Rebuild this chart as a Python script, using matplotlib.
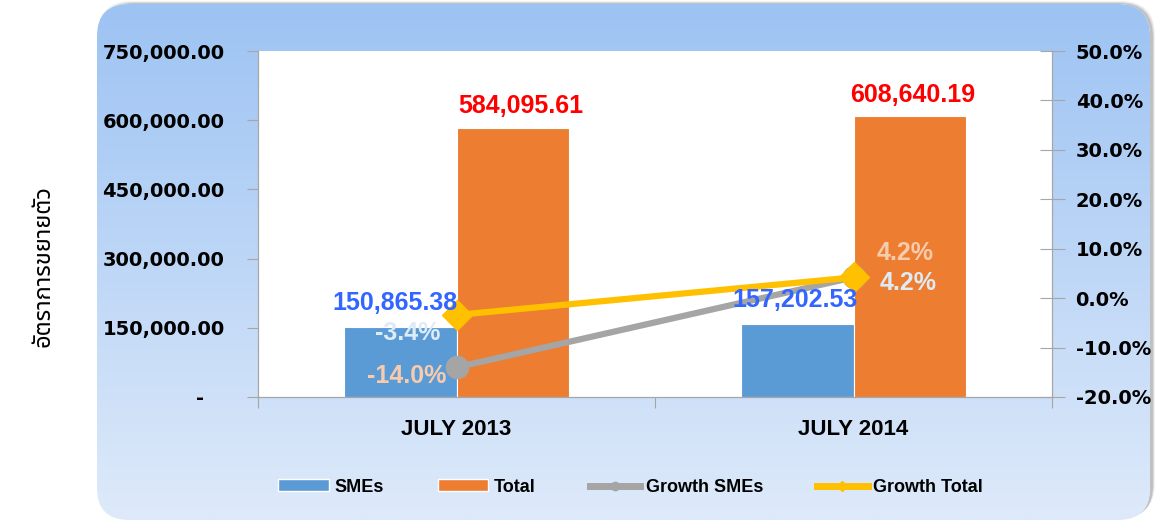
import numpy as np
import matplotlib
matplotlib.use("Agg")
import matplotlib.pyplot as plt
from matplotlib import font_manager as fm
from matplotlib.ft2font import FT2Font
from matplotlib.patches import FancyBboxPatch, Patch
from matplotlib.lines import Line2D

# data
categories = ["JULY 2013", "JULY 2014"]
smes = [150865.38, 157202.53]
total = [584095.61, 608640.19]
growth_smes = [-14.0, 4.2]
growth_total = [-3.4, 4.2]
left_ticks = [0, 150000, 300000, 450000, 600000, 750000]
right_ticks = [-20, -10, 0, 10, 20, 30, 40, 50]
ylabel_th = "อัตราการขยายตัว"

# look for a font that has thai glyphs, prefer a plain sans one
thai_files = []
for f in fm.findSystemFonts():
    try:
        if 0x0E2D in FT2Font(f).get_charmap():
            thai_files.append(f)
    except Exception:
        pass
def score(p):
    n = p.lower()
    for i, k in enumerate(["notosansthai-regular", "notosansthai", "sarabun", "garuda",
                           "loma", "tlwg", "freesans", "thai"]):
        if k in n and "bold" not in n and "looped" not in n:
            return i
    return 99
thai_files.sort(key=score)
if thai_files:
    thai_prop = fm.FontProperties(fname=thai_files[0], size=17)
else:
    thai_prop = fm.FontProperties(family="DejaVu Sans", size=17)

fig = plt.figure(figsize=(11.57, 5.25), dpi=100)

# rounded gradient background with a little shadow up/right
bg = fig.add_axes([0, 0, 1, 1], zorder=-5)
bg.set_xlim(0, 1157)
bg.set_ylim(525, 0)
bg.axis("off")
for i, a in enumerate([0.12, 0.22, 0.35]):
    sh = FancyBboxPatch((97 + 1 + i, 4 - 3 + i), 1053 + 4 - 2 * i, 516,
                        boxstyle="round,pad=0,rounding_size=34",
                        fc="#8f8f8f", ec="none", alpha=a)
    bg.add_patch(sh)
box = FancyBboxPatch((97, 4), 1053, 516, boxstyle="round,pad=0,rounding_size=32",
                     fc="white", ec="none")
bg.add_patch(box)
grad = np.linspace(0, 1, 256).reshape(-1, 1)
c1 = np.array([157, 195, 243]) / 255
c2 = np.array([222, 234, 250]) / 255
img = c1 + (c2 - c1) * grad[..., None]
im = bg.imshow(img, extent=(97, 1150, 520, 4), aspect="auto", zorder=2)
im.set_clip_path(box)
bg.text(40, 266, ylabel_th, rotation=90, ha="center", va="center",
        fontproperties=thai_prop, color="black")

ax = fig.add_axes([258 / 1157, 1 - 397 / 525, 794 / 1157, 346 / 525])
x = np.arange(len(categories))
w = 0.283
ax.bar(x - w / 2, smes, width=w, color="#5B9BD5", edgecolor="white", linewidth=0.8)
ax.bar(x + w / 2, total, width=w, color="#ED7D31", edgecolor="white", linewidth=0.8)
ax.set_xlim(-0.5, 1.5)
ax.set_ylim(0, 750000)
ax.set_yticks(left_ticks)
ax.set_yticklabels(["-   "] + ["{:,.2f}".format(v) for v in left_ticks[1:]],
                   fontsize=14, fontweight="bold", family="DejaVu Sans")
ax.set_xticks([-0.5, 0.5, 1.5])
ax.set_xticklabels([])
ax.set_xticks(x, minor=True)
ax.set_xticklabels(categories, minor=True, fontsize=16, fontweight="bold",
                   family="Liberation Sans")
ax.tick_params(axis="x", which="minor", length=0, pad=16)
ax.tick_params(axis="x", which="major", length=8, color="#A6A6A6", direction="out")
ax.tick_params(axis="y", length=8, color="#A6A6A6", pad=16)
for s in ["left", "bottom", "right"]:
    ax.spines[s].set_color("#A6A6A6")
ax.spines["top"].set_visible(False)

ax2 = ax.twinx()
ax2.plot(x, growth_smes, color="#A5A5A5", lw=4.5, marker="o", ms=16, zorder=3)
ax2.plot(x, growth_total, color="#FFC000", lw=4.5, marker="D", ms=15,
         mec="#FFC000", zorder=4)
ax2.set_ylim(-20, 50)
ax2.set_yticks(right_ticks)
ax2.set_yticklabels(["{:.1f}%".format(v) for v in right_ticks], fontsize=14,
                    fontweight="bold", family="DejaVu Sans")
ax2.tick_params(axis="y", direction="inout", length=18, color="#A6A6A6", pad=8)
for s in ["left", "bottom", "right"]:
    ax2.spines[s].set_color("#A6A6A6")
ax2.spines["top"].set_visible(False)

# labels
lab = dict(fontsize=18, fontweight="bold", family="Liberation Sans",
           ha="center", va="center", textcoords="offset pixels", zorder=10)
for xi, v, off in zip(x, smes, [(-5, 24), (-2, 24)]):
    ax2.annotate("{:,.2f}".format(v), (xi - w / 2, v), xycoords=ax.transData,
                 xytext=off, color="#3366FF", **lab)
for xi, v, off in zip(x, total, [(8, 22), (3, 21)]):
    ax2.annotate("{:,.2f}".format(v), (xi + w / 2, v), xycoords=ax.transData,
                 xytext=off, color="#FF0000", **lab)
for xi, v, off in zip(x, growth_smes, [(-50, -9), (52, 24)]):
    ax2.annotate("{:.1f}%".format(v), (xi, v), xytext=off, color="#F8CBAD", **lab)
for xi, v, off in zip(x, growth_total, [(-49, -18), (55, -6)]):
    ax2.annotate("{:.1f}%".format(v), (xi, v), xytext=off, color="#DDEBF7", **lab)

handles = [Patch(fc="#5B9BD5", ec="white"), Patch(fc="#ED7D31", ec="white"),
           Line2D([], [], color="#A5A5A5", lw=5, marker="o", ms=6),
           Line2D([], [], color="#FFC000", lw=5, marker="D", ms=5)]
fig.legend(handles, ["SMEs", "Total", "Growth SMEs", "Growth Total"],
           loc="center", bbox_to_anchor=(0.545, 0.072), ncol=4, frameon=False,
           prop=dict(family="Liberation Sans", weight="bold", size=13),
           handlelength=2.8, handleheight=0.65, handletextpad=0.3,
           columnspacing=3.0)

fig.savefig("out.png", dpi=100)
